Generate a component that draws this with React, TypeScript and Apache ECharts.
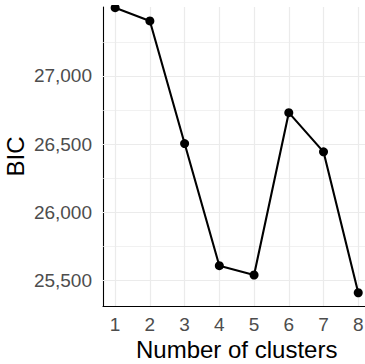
import React, { useEffect, useRef } from "react";
import * as echarts from "echarts";

const clusters = [1, 2, 3, 4, 5, 6, 7, 8];
const bic = [27500, 27403, 26505, 25610, 25542, 26731, 26444, 25412];
const yMajorTicks = [25500, 26000, 26500, 27000];
const yMinorTicks = [25750, 26250, 26750, 27250];

const FONT = "'Liberation Sans', Arial, Helvetica, sans-serif";

export default function App() {
  const ref = useRef<HTMLDivElement>(null);
  useEffect(() => {
    if (!ref.current) return;
    const chart = echarts.init(ref.current, undefined, { renderer: "svg" });
    const gridColor = "#EBEBEB";
    chart.setOption({
      animation: false,
      backgroundColor: "#ffffff",
      textStyle: { fontFamily: FONT },
      grid: {
        left: 103,
        right: -5.4,
        top: 7,
        bottom: 58,
        containLabel: false,
        outerBoundsMode: "none",
      },
      xAxis: {
        type: "value",
        min: 0.65,
        max: 8.35,
        name: "Number of clusters",
        nameLocation: "middle",
        nameGap: 31,
        nameMoveOverlap: false,
        nameTextStyle: { fontSize: 24, color: "#000000", fontFamily: FONT },
        axisLine: { show: true, lineStyle: { color: "#000000", width: 1.1 } },
        axisTick: { show: false },
        splitLine: { show: false },
        axisLabel: {
          customValues: clusters,
          margin: 9,
          fontSize: 19,
          color: "#4D4D4D",
          fontFamily: FONT,
        },
      },
      yAxis: {
        type: "value",
        min: 25315,
        max: 27505,
        name: "BIC",
        nameLocation: "middle",
        nameGap: 76,
        nameMoveOverlap: false,
        nameTextStyle: { fontSize: 24, color: "#000000", fontFamily: FONT },
        axisLine: { show: true, lineStyle: { color: "#000000", width: 1.1 } },
        axisTick: { show: false },
        splitLine: { show: false },
        axisLabel: {
          customValues: yMajorTicks,
          margin: 11,
          fontSize: 19,
          color: "#4D4D4D",
          fontFamily: FONT,
          formatter: (v: number) => v.toLocaleString("en-US"),
        },
      },
      graphic: [
        {
          type: "rect",
          left: 0,
          top: 0,
          z: 100,
          shape: { width: 365, height: 5 },
          style: { fill: "#ffffff" },
          silent: true,
        },
      ],
      series: [
        {
          type: "line",
          data: [],
          z: 0,
          silent: true,
          markLine: {
            silent: true,
            symbol: "none",
            label: { show: false },
            data: [
              ...yMinorTicks.map((v) => ({ yAxis: v, lineStyle: { color: gridColor, width: 0.7, type: "solid" } })),
              ...yMajorTicks.map((v) => ({ yAxis: v, lineStyle: { color: gridColor, width: 1.2, type: "solid" } })),
              ...clusters.map((v) => ({ xAxis: v, lineStyle: { color: gridColor, width: 1.2, type: "solid" } })),
            ],
          },
        },
        {
          type: "line",
          z: 5,
          clip: false,
          data: clusters.map((c, i) => [c, bic[i]]),
          symbol: "circle",
          symbolSize: 9,
          itemStyle: { color: "#000000" },
          lineStyle: { color: "#000000", width: 2.1 },
        },
      ],
    });
    return () => chart.dispose();
  }, []);
  return (
    <div
      ref={ref}
      style={{ position: "fixed", left: 0, top: 0, width: 365, height: 364 }}
    />
  );
}
